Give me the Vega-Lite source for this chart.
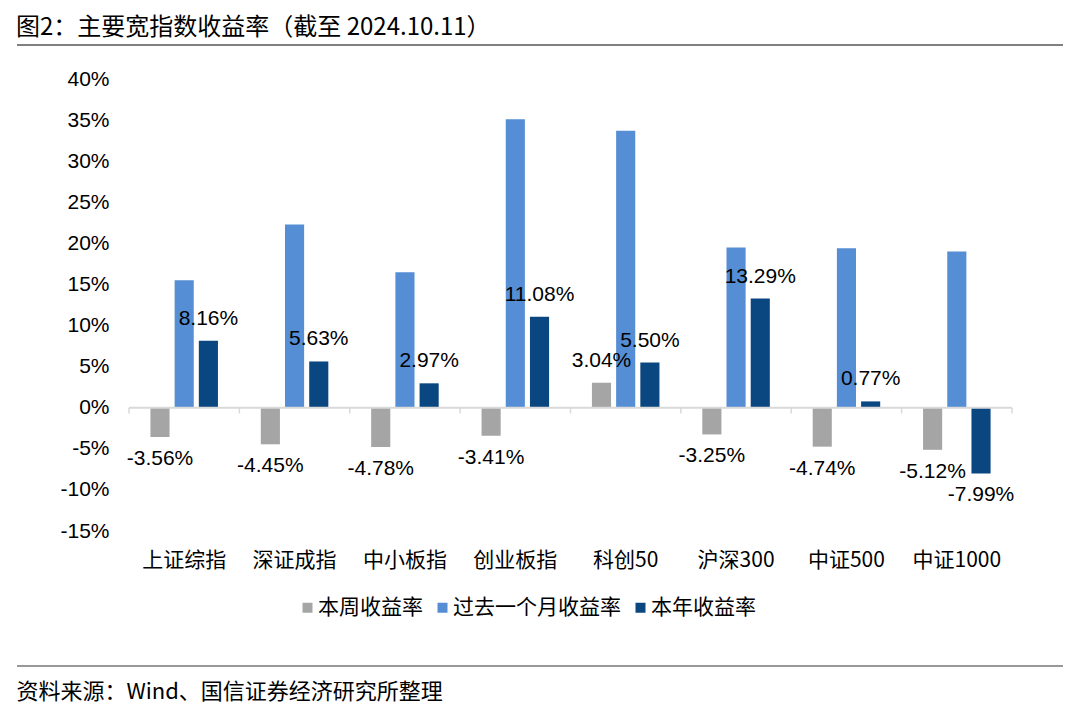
{
  "$schema": "https://vega.github.io/schema/vega-lite/v6.json",
  "padding": {"left": 14, "top": 16, "right": 0, "bottom": 10},
  "spacing": 22,
  "resolve": {"legend": {"color": "independent"}},
  "config": {
    "view": {"stroke": null},
    "font": "Liberation Sans",
    "locale": {"number": {"decimal": ".", "thousands": ",", "grouping": [3], "currency": ["", ""], "minus": "-"}}
  },
  "vconcat": [
    {
      "width": 1046,
      "height": 5,
      "data": {"values": [{}]},
      "mark": {"type": "rule", "color": "#808080", "strokeWidth": 2},
      "encoding": {"y": {"datum": 0, "type": "quantitative", "scale": {"domain": [0, 1]}, "axis": null}},
      "title": {"text": "图2：主要宽指数收益率（截至 2024.10.11）", "anchor": "start", "fontSize": 24, "font": "Noto Sans CJK SC", "fontWeight": "normal", "color": "#000000", "offset": 0}
    },
    {
      "spacing": 0,
      "resolve": {"legend": {"color": "independent"}},
      "hconcat": [
        {
          "width": 1,
          "height": 1,
          "data": {"values": [{}]},
          "mark": {"type": "point", "opacity": 0}
        },
        {
          "width": 883,
          "height": 452,
          "data": {"values": [
            {"category": "上证综指", "series": "本周收益率", "value": -0.0356},
            {"category": "上证综指", "series": "过去一个月收益率", "value": 0.155},
            {"category": "上证综指", "series": "本年收益率", "value": 0.0816},
            {"category": "深证成指", "series": "本周收益率", "value": -0.0445},
            {"category": "深证成指", "series": "过去一个月收益率", "value": 0.223},
            {"category": "深证成指", "series": "本年收益率", "value": 0.0563},
            {"category": "中小板指", "series": "本周收益率", "value": -0.0478},
            {"category": "中小板指", "series": "过去一个月收益率", "value": 0.165},
            {"category": "中小板指", "series": "本年收益率", "value": 0.0297},
            {"category": "创业板指", "series": "本周收益率", "value": -0.0341},
            {"category": "创业板指", "series": "过去一个月收益率", "value": 0.351},
            {"category": "创业板指", "series": "本年收益率", "value": 0.1108},
            {"category": "科创50", "series": "本周收益率", "value": 0.0304},
            {"category": "科创50", "series": "过去一个月收益率", "value": 0.337},
            {"category": "科创50", "series": "本年收益率", "value": 0.055},
            {"category": "沪深300", "series": "本周收益率", "value": -0.0325},
            {"category": "沪深300", "series": "过去一个月收益率", "value": 0.195},
            {"category": "沪深300", "series": "本年收益率", "value": 0.1329},
            {"category": "中证500", "series": "本周收益率", "value": -0.0474},
            {"category": "中证500", "series": "过去一个月收益率", "value": 0.194},
            {"category": "中证500", "series": "本年收益率", "value": 0.0077},
            {"category": "中证1000", "series": "本周收益率", "value": -0.0512},
            {"category": "中证1000", "series": "过去一个月收益率", "value": 0.19},
            {"category": "中证1000", "series": "本年收益率", "value": -0.0799}
          ]},
          "layer": [
            {
              "mark": {"type": "bar"},
              "encoding": {
                "x": {"field": "category", "type": "nominal", "sort": ["上证综指", "深证成指", "中小板指", "创业板指", "科创50", "沪深300", "中证500", "中证1000"], "scale": {"paddingInner": 0, "paddingOuter": 0}, "axis": {"title": null, "labelAngle": 0, "domain": false, "ticks": false, "labelPadding": 18, "labelFontSize": 21, "labelFont": "Noto Sans CJK SC", "labelColor": "#000000"}},
                "xOffset": {"field": "series", "type": "nominal", "sort": ["本周收益率", "过去一个月收益率", "本年收益率"], "scale": {"paddingInner": 0.21, "paddingOuter": 0.885}},
                "y": {"field": "value", "type": "quantitative", "scale": {"domain": [-0.15, 0.4]}, "axis": {"title": null, "values": [-0.15, -0.1, -0.05, 0, 0.05, 0.1, 0.15, 0.2, 0.25, 0.3, 0.35, 0.4], "format": ".0%", "domain": false, "ticks": false, "grid": false, "labelPadding": 20, "labelFontSize": 21, "labelColor": "#000000", "minExtent": 108}},
                "color": {"field": "series", "type": "nominal", "scale": {"domain": ["本周收益率", "过去一个月收益率", "本年收益率"], "range": ["#A5A5A5", "#558ED5", "#0A4780"]}, "legend": {"title": null, "orient": "none", "legendX": 168, "legendY": 518, "direction": "horizontal", "columns": 3, "symbolType": "square", "symbolSize": 100, "symbolStrokeWidth": 0, "labelFontSize": 21, "labelFont": "Noto Sans CJK SC", "labelColor": "#000000", "labelOffset": 0, "columnPadding": 9, "labelLimit": 400, "padding": 0}}
              }
            },
            {
              "data": {"values": [{}]},
              "mark": {"type": "rule", "color": "#D9D9D9", "strokeWidth": 2},
              "encoding": {"y": {"datum": 0, "type": "quantitative"}}
            },
            {
              "transform": [{"filter": "datum.series === '本周收益率'"}],
              "mark": {"type": "rule", "color": "#D9D9D9", "strokeWidth": 1.5},
              "encoding": {
                "x": {"field": "category", "type": "nominal", "sort": ["上证综指", "深证成指", "中小板指", "创业板指", "科创50", "沪深300", "中证500", "中证1000"], "bandPosition": 0},
                "y": {"datum": 0, "type": "quantitative"},
                "y2": {"datum": -0.007}
              }
            },
            {
              "transform": [{"filter": "datum.series === '本周收益率' && datum.category === '中证1000'"}],
              "mark": {"type": "rule", "color": "#D9D9D9", "strokeWidth": 1.5},
              "encoding": {
                "x": {"field": "category", "type": "nominal", "sort": ["上证综指", "深证成指", "中小板指", "创业板指", "科创50", "沪深300", "中证500", "中证1000"], "bandPosition": 1},
                "y": {"datum": 0, "type": "quantitative"},
                "y2": {"datum": -0.007}
              }
            },
            {
              "transform": [{"filter": "datum.series !== '过去一个月收益率' && datum.value >= 0"}],
              "mark": {"type": "text", "dy": -22, "fontSize": 21, "color": "#000000", "baseline": "middle"},
              "encoding": {
                "x": {"field": "category", "type": "nominal", "sort": ["上证综指", "深证成指", "中小板指", "创业板指", "科创50", "沪深300", "中证500", "中证1000"]},
                "xOffset": {"field": "series", "type": "nominal", "sort": ["本周收益率", "过去一个月收益率", "本年收益率"]},
                "y": {"field": "value", "type": "quantitative"},
                "text": {"field": "value", "type": "quantitative", "format": ".2%"}
              }
            },
            {
              "transform": [{"filter": "datum.series !== '过去一个月收益率' && datum.value < 0"}],
              "mark": {"type": "text", "dy": 22, "fontSize": 21, "color": "#000000", "baseline": "middle"},
              "encoding": {
                "x": {"field": "category", "type": "nominal", "sort": ["上证综指", "深证成指", "中小板指", "创业板指", "科创50", "沪深300", "中证500", "中证1000"]},
                "xOffset": {"field": "series", "type": "nominal", "sort": ["本周收益率", "过去一个月收益率", "本年收益率"]},
                "y": {"field": "value", "type": "quantitative"},
                "text": {"field": "value", "type": "quantitative", "format": ".2%"}
              }
            }
          ]
        }
      ]
    },
    {
      "width": 1046,
      "height": 26,
      "data": {"values": [{}]},
      "mark": {"type": "rule", "color": "#333333", "strokeWidth": 1.2},
      "encoding": {"y": {"datum": 0, "type": "quantitative", "scale": {"domain": [0, 1]}, "axis": null}},
      "title": {"text": "资料来源：Wind、国信证券经济研究所整理", "orient": "bottom", "anchor": "start", "fontSize": 22, "font": "Noto Sans CJK SC", "fontWeight": "normal", "color": "#000000", "offset": 15}
    }
  ]
}
